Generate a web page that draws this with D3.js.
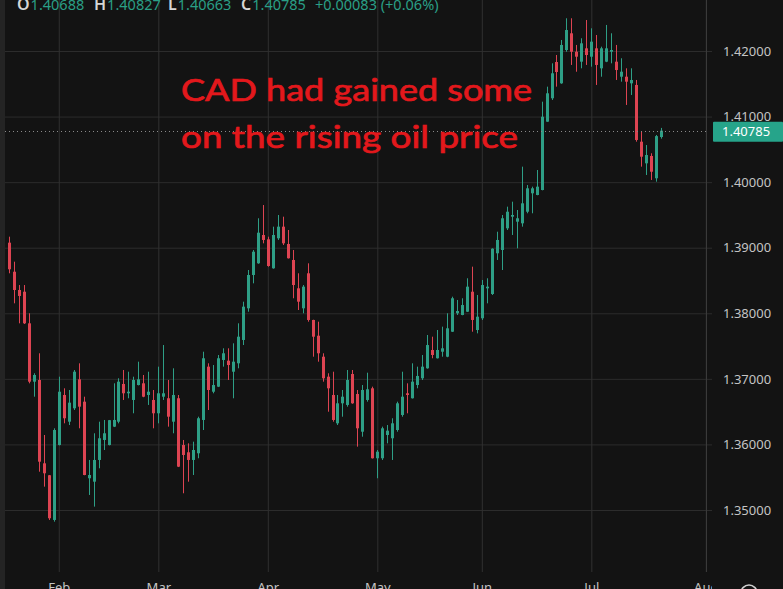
<!DOCTYPE html>
<html lang="en">
<head>
  <meta charset="UTF-8">
  <title>USD/CAD daily</title>
  <script src="https://d3js.org/d3.v7.min.js"></script>
  <style>
    * { margin: 0; padding: 0; box-sizing: border-box; }
    body { background: #131313; overflow: hidden; }
    svg { display: block; font-family: "Noto Sans", Roboto, sans-serif; }
  </style>
</head>
<body>
  <div id="chart"></div>

  <script>
    // daily OHLC, Feb -> mid Jul
    const opens = [
      1.39077, 1.38634, 1.38355, 1.38329, 1.37847, 1.36957, 1.36983, 1.35712, 1.35530, 1.34848,
      1.35991, 1.36754, 1.36347, 1.36551, 1.36993, 1.36652, 1.35484, 1.35432, 1.35763, 1.36068,
      1.35991, 1.36271, 1.36347, 1.36922, 1.36780, 1.36678, 1.36906, 1.36932, 1.36754, 1.36678,
      1.36475, 1.36728, 1.36704, 1.36347, 1.36704, 1.35991, 1.35880, 1.35763, 1.35865, 1.36373,
      1.37186, 1.36804, 1.36881, 1.37288, 1.37277, 1.37109, 1.37237, 1.37593, 1.38076, 1.38584,
      1.38762, 1.39194, 1.39128, 1.38686, 1.39144, 1.39321, 1.39057, 1.38813, 1.38381, 1.38076,
      1.38610, 1.37898, 1.37658, 1.37338, 1.37033, 1.36754, 1.36322, 1.36627, 1.36602, 1.37074,
      1.36769, 1.36194, 1.36678, 1.36856, 1.35789, 1.35789, 1.36144, 1.36094, 1.36220, 1.36449,
      1.36780, 1.36704, 1.36906, 1.37009, 1.37161, 1.37440, 1.37314, 1.37414, 1.37338, 1.37719,
      1.38000, 1.37974, 1.38024, 1.38329, 1.37745, 1.37924, 1.38381, 1.38294, 1.38915, 1.38965,
      1.39296, 1.39473, 1.39397, 1.39372, 1.39549, 1.39830, 1.39804, 1.39880, 1.40922, 1.41279,
      1.41832, 1.41507, 1.42015, 1.42270, 1.41989, 1.41837, 1.42041, 1.41913, 1.42041, 1.41736,
      1.41837, 1.41989, 1.41837, 1.41608, 1.41608, 1.41507, 1.41482, 1.40617, 1.40287, 1.40399,
      1.40059, 1.40688
    ];
    const highs = [
      1.39168, 1.38787, 1.38431, 1.38431, 1.38000, 1.37085, 1.37390, 1.36144, 1.35534, 1.36246,
      1.37033, 1.36856, 1.36830, 1.37135, 1.37237, 1.36728, 1.35763, 1.36170, 1.36347, 1.36373,
      1.36373, 1.36932, 1.37009, 1.37135, 1.37109, 1.37033, 1.37262, 1.37059, 1.37109, 1.36830,
      1.37186, 1.37516, 1.36983, 1.37161, 1.36754, 1.36068, 1.36017, 1.36042, 1.36423, 1.37414,
      1.37237, 1.37211, 1.37364, 1.37466, 1.37466, 1.37542, 1.37847, 1.38177, 1.38660, 1.38965,
      1.39449, 1.39651, 1.39168, 1.39321, 1.39499, 1.39473, 1.39270, 1.38965, 1.38610, 1.38431,
      1.38762, 1.37902, 1.37872, 1.37390, 1.37085, 1.37109, 1.36754, 1.36830, 1.37135, 1.37135,
      1.36830, 1.36906, 1.37094, 1.36881, 1.35915, 1.36271, 1.36296, 1.36399, 1.36652, 1.37109,
      1.36932, 1.37237, 1.37186, 1.37364, 1.37669, 1.37643, 1.37745, 1.37796, 1.38000, 1.38253,
      1.38203, 1.38229, 1.38534, 1.38711, 1.38279, 1.38508, 1.38534, 1.38991, 1.39244, 1.39499,
      1.39626, 1.39702, 1.39575, 1.40236, 1.39956, 1.39931, 1.40185, 1.41227, 1.41456, 1.41812,
      1.41939, 1.42168, 1.42499, 1.42499, 1.42092, 1.42194, 1.42473, 1.42346, 1.42244, 1.42066,
      1.42397, 1.42270, 1.42092, 1.41889, 1.41736, 1.41736, 1.41558, 1.40769, 1.40566, 1.40440,
      1.40719, 1.40827
    ];
    const lows = [
      1.38610, 1.38152, 1.37847, 1.37837, 1.36932, 1.36728, 1.35584, 1.35356, 1.34848, 1.34822,
      1.35985, 1.36322, 1.36296, 1.36525, 1.36246, 1.35530, 1.35229, 1.35051, 1.35636, 1.35915,
      1.35985, 1.36265, 1.36322, 1.36678, 1.36704, 1.36475, 1.36900, 1.36720, 1.36602, 1.36246,
      1.36322, 1.36678, 1.36271, 1.36170, 1.35655, 1.35255, 1.35432, 1.35534, 1.35789, 1.36220,
      1.36525, 1.36780, 1.36875, 1.37186, 1.36983, 1.36704, 1.37161, 1.37516, 1.38024, 1.38457,
      1.38755, 1.39067, 1.38710, 1.38680, 1.39118, 1.39041, 1.38835, 1.38229, 1.38050, 1.38000,
      1.37872, 1.37338, 1.37262, 1.36957, 1.36499, 1.36347, 1.36296, 1.36423, 1.36576, 1.36620,
      1.35966, 1.36118, 1.36652, 1.35785, 1.35484, 1.35763, 1.36017, 1.35763, 1.36194, 1.36423,
      1.36475, 1.36700, 1.36856, 1.36983, 1.37155, 1.37314, 1.37310, 1.37338, 1.37330, 1.37715,
      1.37974, 1.37970, 1.38020, 1.37719, 1.37694, 1.37898, 1.38152, 1.38279, 1.38813, 1.38660,
      1.39270, 1.39194, 1.38991, 1.39321, 1.39525, 1.39525, 1.39800, 1.39875, 1.40920, 1.41253,
      1.41456, 1.41500, 1.41989, 1.41787, 1.41684, 1.41736, 1.41787, 1.41761, 1.41482, 1.41608,
      1.41830, 1.41812, 1.41558, 1.41532, 1.41177, 1.41329, 1.40617, 1.40236, 1.40109, 1.40033,
      1.40007, 1.40663
    ];
    const closes = [
      1.38671, 1.38355, 1.38264, 1.37847, 1.36957, 1.37059, 1.35737, 1.35560, 1.34874, 1.36220,
      1.36804, 1.36399, 1.36637, 1.37109, 1.36576, 1.35534, 1.35534, 1.35763, 1.36094, 1.36170,
      1.36370, 1.36373, 1.36957, 1.36780, 1.36804, 1.36983, 1.36993, 1.36728, 1.36804, 1.36475,
      1.36780, 1.36780, 1.36423, 1.36754, 1.35661, 1.35839, 1.35763, 1.35915, 1.36399, 1.37314,
      1.36830, 1.36906, 1.37314, 1.37390, 1.37211, 1.37262, 1.37643, 1.38101, 1.38584, 1.38939,
      1.39229, 1.39118, 1.38721, 1.39194, 1.39321, 1.39067, 1.38839, 1.38431, 1.38177, 1.38406,
      1.37898, 1.37643, 1.37390, 1.37009, 1.36856, 1.36373, 1.36627, 1.36728, 1.36983, 1.36627,
      1.36246, 1.36830, 1.36841, 1.35789, 1.35889, 1.36246, 1.36210, 1.36322, 1.36627, 1.36728,
      1.36754, 1.36957, 1.37044, 1.37186, 1.37516, 1.37364, 1.37440, 1.37466, 1.37771, 1.38229,
      1.38035, 1.38126, 1.38406, 1.37898, 1.37948, 1.38431, 1.38406, 1.38985, 1.39118, 1.39449,
      1.39549, 1.39499, 1.39449, 1.39677, 1.39906, 1.39906, 1.39931, 1.40998, 1.41355, 1.41660,
      1.41680, 1.42092, 1.42320, 1.41989, 1.41913, 1.42117, 1.41939, 1.42142, 1.41787, 1.42041,
      1.42041, 1.42015, 1.41710, 1.41684, 1.41532, 1.41558, 1.40643, 1.40388, 1.40414, 1.40159,
      1.40702, 1.40785
    ];

    const priceTicks = [1.35, 1.36, 1.37, 1.38, 1.39, 1.40, 1.41, 1.42];
    const monthLabels = ["Feb", "Mar", "Apr", "May", "Jun", "Jul", "Aug"];
    const monthBars = [10, 30, 52, 74, 95, 117, 140];   // bar index where each month starts
    const ohlcKeys = ["O", "H", "L", "C"];
    const noteLines = ["CAD had gained some", "on the rising oil price"];

    const W = 783, H = 589,
          paneRight = 706, paneBottom = 572;
    const upColor = "#2e9f86", downColor = "#dd4452", gridColor = "#2c2c2c";

    const svg = d3.select("#chart")
                  .append("svg")
                  .attr("width", W)
                  .attr("height", H);

    svg.append("rect")
       .attr("width", W)
       .attr("height", H)
       .attr("fill", "#131313");

    const n = closes.length;
    const bars = d3.range(n).map(i => ({
      i: i, o: opens[i], h: highs[i], l: lows[i], c: closes[i]
    }));

    const x = d3.scaleLinear()
                .domain([0, n - 1])
                .range([9, 661]);

    const y = d3.scaleLinear()
                .domain([1.35, 1.42])
                .range([510, 51]);

    // grid
    svg.append("g")
       .attr("transform", `translate(${paneRight + 6},0)`)
       .call(d3.axisLeft(y)
               .tickValues(priceTicks)
               .tickSize(paneRight + 6)
               .tickFormat(""))
       .call(g => g.select(".domain").remove())
       .selectAll("line")
       .attr("stroke", gridColor);

    svg.append("g")
       .attr("transform", `translate(0,${paneBottom})`)
       .call(d3.axisBottom(x)
               .tickValues(monthBars)
               .tickSize(-paneBottom)
               .tickFormat(""))
       .call(g => g.select(".domain").remove())
       .selectAll("line")
       .attr("stroke", "#303030");

    // left edge strip
    svg.append("rect")
       .attr("x", 0).attr("y", 0)
       .attr("width", 5).attr("height", H)
       .attr("fill", "#242424");

    // price scale border
    svg.append("line")
       .attr("x1", paneRight + 0.5).attr("x2", paneRight + 0.5)
       .attr("y1", 0).attr("y2", paneBottom)
       .attr("stroke", "#3a3a3a");

    // price labels
    svg.append("g")
       .attr("transform", `translate(${paneRight},0)`)
       .call(d3.axisRight(y)
               .tickValues(priceTicks)
               .tickSize(0)
               .tickPadding(17)
               .tickFormat(d3.format(".5f")))
       .call(g => g.select(".domain").remove())
       .selectAll("text")
       .attr("fill", "#c4c4c4")
       .style("font-size", "13px")
       .style("font-family", "\"Noto Sans\", sans-serif");

    // month labels, clipped at the price scale (clip rect is in the axis group's own coords)
    svg.append("clipPath")
       .attr("id", "timeClip")
       .append("rect")
       .attr("x", 0).attr("y", 0)
       .attr("width", paneRight + 6).attr("height", H - paneBottom);

    svg.append("g")
       .attr("clip-path", "url(#timeClip)")
       .attr("transform", `translate(0,${paneBottom})`)
       .call(d3.axisBottom(x)
               .tickValues(monthBars)
               .tickSize(0)
               .tickPadding(11)
               .tickFormat((d, i) => monthLabels[i]))
       .call(g => g.select(".domain").remove())
       .selectAll("text")
       .attr("fill", "#c4c4c4")
       .style("font-size", "13px")
       .style("font-family", "\"Noto Sans\", sans-serif");

    // candles
    const candle = svg.append("g")
                      .selectAll("g")
                      .data(bars)
                      .enter()
                      .append("g")
                      .attr("fill", d => d.c >= d.o ? upColor : downColor)
                      .attr("stroke", d => d.c >= d.o ? upColor : downColor);

    candle.append("line")
          .attr("x1", d => Math.round(x(d.i)) + 0.5)
          .attr("x2", d => Math.round(x(d.i)) + 0.5)
          .attr("y1", d => y(d.h))
          .attr("y2", d => y(d.l))
          .attr("stroke-width", 1);

    candle.append("rect")
          .attr("x", d => Math.round(x(d.i)) - 1)
          .attr("y", d => y(Math.max(d.o, d.c)))
          .attr("width", 3)
          .attr("height", d => Math.max(1, Math.abs(y(d.o) - y(d.c))))
          .attr("stroke", "none");

    // last price line + label
    const last = bars[n - 1];
    svg.append("line")
       .attr("x1", 5).attr("x2", paneRight)
       .attr("y1", Math.round(y(last.c)) + 0.5)
       .attr("y2", Math.round(y(last.c)) + 0.5)
       .attr("stroke", "#8a8a8a")
       .attr("stroke-width", 1)
       .attr("stroke-dasharray", "1,3");

    svg.append("rect")
       .attr("x", 713)
       .attr("y", y(last.c) - 9)
       .attr("width", 70)
       .attr("height", 20)
       .attr("rx", 1)
       .attr("fill", "#26a48a");

    svg.append("text")
       .attr("x", 722)
       .attr("y", y(last.c) + 1)
       .attr("dy", "0.35em")
       .attr("fill", "#ffffff")
       .style("font-size", "13px")
       .text(d3.format(".5f")(last.c));

    // OHLC header
    const ohlcVals = [last.o, last.h, last.l, last.c];
    const headX = [17, 94, 168, 241];
    ohlcKeys.forEach((k, i) => {
      const t = svg.append("text")
                   .attr("x", headX[i])
                   .attr("y", 10)
                   .style("font-size", "14.5px");
      t.append("tspan").attr("fill", "#d6d6d6").style("font-weight", "600").style("font-size", "16px").text(k);
      t.append("tspan").attr("fill", "#2a9f86").attr("dx", 1).text(d3.format(".5f")(ohlcVals[i]));
    });
    const chg = last.c - bars[n - 2].c;
    svg.append("text")
       .attr("x", 315)
       .attr("y", 10)
       .attr("fill", "#2a9f86")
       .style("font-size", "14.5px")
       .text(`${d3.format("+.5f")(chg)} (${d3.format("+.2%")(chg / bars[n - 2].c)})`);

    // annotation
    noteLines.forEach((line, i) => {
      svg.append("text")
         .attr("x", 181)
         .attr("y", 101 + i * 47)
         .attr("fill", "#e3181c")
         .attr("stroke", "#e3181c")
         .attr("stroke-width", 0.7)
         .attr("textLength", i === 0 ? 351 : 337)
         .attr("lengthAdjust", "spacingAndGlyphs")
         .style("font-family", "Lato, \"Open Sans\", sans-serif")
         .style("font-size", "31px")
         .text(line);
    });

    // small settings icon in the corner
    svg.append("circle")
       .attr("cx", 749).attr("cy", 593)
       .attr("r", 8)
       .attr("fill", "none")
       .attr("stroke", "#d0d0d0")
       .attr("stroke-width", 1.6);
  </script>
</body>
</html>
